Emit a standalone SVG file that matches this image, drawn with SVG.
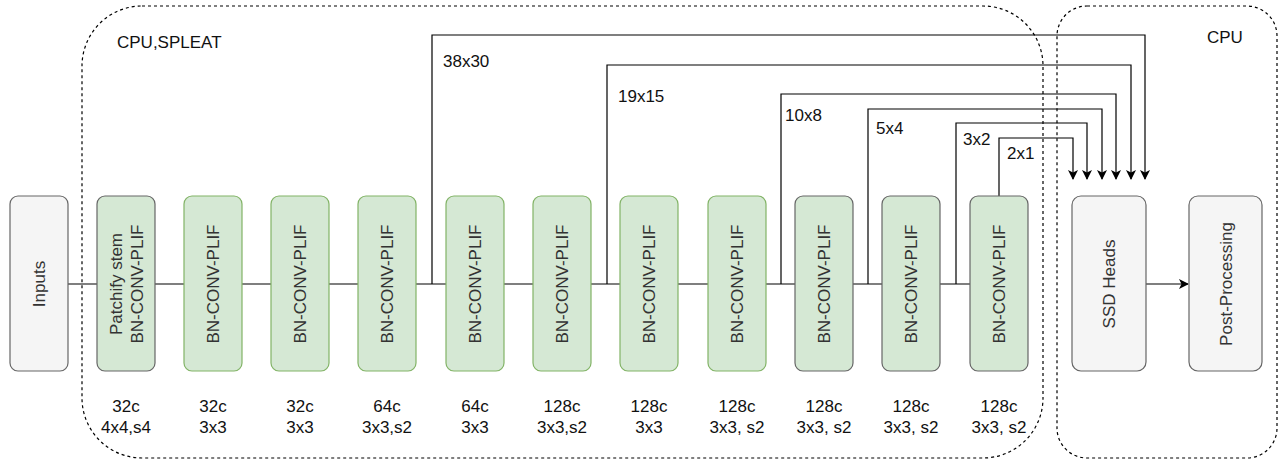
<svg xmlns="http://www.w3.org/2000/svg" width="1283" height="464" viewBox="0 0 1283 464">
<style>
text{font-family:"Liberation Sans",Arial,sans-serif;font-size:17px;fill:#333}
.lbl{fill:#111}
.region{fill:none;stroke:#000;stroke-width:1.2;stroke-dasharray:3 3}
.grey{fill:#f5f5f5;stroke:#666;stroke-width:1.2}
.green{fill:#d5e8d4;stroke:#82b366;stroke-width:1.2}
.greeng{fill:#d5e8d4;stroke:#666;stroke-width:1.2}
.wire{fill:none;stroke:#000;stroke-width:1.2}
</style>
<defs>
<marker id="arr" viewBox="0 0 10 10" refX="9" refY="5" markerWidth="10" markerHeight="10" markerUnits="userSpaceOnUse" orient="auto">
<path d="M0,0 L10,5 L0,10 L2.5,5 Z" fill="#000"/>
</marker>
</defs>
<g id="region-spleat">
<rect class="region" x="82" y="6" width="961" height="452" rx="60" ry="60"/>
<text class="lbl" x="117" y="48">CPU,SPLEAT</text>
</g>
<g id="region-cpu">
<rect class="region" x="1057" y="6" width="220" height="452" rx="30" ry="30"/>
<text class="lbl" x="1207" y="43">CPU</text>
</g>
<g id="connectors">
<path class="wire" d="M68,284 H970"/>
<path class="wire" d="M432,284 V35 H1145 V179" marker-end="url(#arr)"/>
<path class="wire" d="M607,284 V65 H1131 V179" marker-end="url(#arr)"/>
<path class="wire" d="M781,284 V94 H1116 V179" marker-end="url(#arr)"/>
<path class="wire" d="M868,284 V109 H1102 V179" marker-end="url(#arr)"/>
<path class="wire" d="M956,284 V123 H1087 V179" marker-end="url(#arr)"/>
<path class="wire" d="M999,196 V138 H1073 V179" marker-end="url(#arr)"/>
<path class="wire" d="M1146,284 H1188" marker-end="url(#arr)"/>
<text class="lbl" x="443" y="67">38x30</text>
<text class="lbl" x="618" y="102">19x15</text>
<text class="lbl" x="785" y="121">10x8</text>
<text class="lbl" x="876" y="134">5x4</text>
<text class="lbl" x="963" y="145">3x2</text>
<text class="lbl" x="1007" y="159">2x1</text>
</g>
<g id="inputs">
<rect class="grey" x="10" y="196" width="58" height="175" rx="8"/>
<text transform="translate(39,284) rotate(-90)" x="0" y="6" text-anchor="middle">Inputs</text>
</g>
<g id="block1">
<rect class="greeng" x="97" y="196" width="58" height="175" rx="8"/>
<text transform="translate(126,284) rotate(-90)" text-anchor="middle"><tspan x="0" y="-4.5">Patchify stem</tspan><tspan x="0" y="16.5">BN-CONV-PLIF</tspan></text>
<text class="lbl" x="126" y="412" text-anchor="middle">32c</text>
<text class="lbl" x="126" y="433" text-anchor="middle">4x4,s4</text>
</g>
<g id="block2">
<rect class="green" x="184" y="196" width="58" height="175" rx="8"/>
<text transform="translate(213,284) rotate(-90)" x="0" y="6" text-anchor="middle">BN-CONV-PLIF</text>
<text class="lbl" x="213" y="412" text-anchor="middle">32c</text>
<text class="lbl" x="213" y="433" text-anchor="middle">3x3</text>
</g>
<g id="block3">
<rect class="green" x="271" y="196" width="58" height="175" rx="8"/>
<text transform="translate(300,284) rotate(-90)" x="0" y="6" text-anchor="middle">BN-CONV-PLIF</text>
<text class="lbl" x="300" y="412" text-anchor="middle">32c</text>
<text class="lbl" x="300" y="433" text-anchor="middle">3x3</text>
</g>
<g id="block4">
<rect class="green" x="358" y="196" width="58" height="175" rx="8"/>
<text transform="translate(387,284) rotate(-90)" x="0" y="6" text-anchor="middle">BN-CONV-PLIF</text>
<text class="lbl" x="387" y="412" text-anchor="middle">64c</text>
<text class="lbl" x="387" y="433" text-anchor="middle">3x3,s2</text>
</g>
<g id="block5">
<rect class="green" x="446" y="196" width="58" height="175" rx="8"/>
<text transform="translate(475,284) rotate(-90)" x="0" y="6" text-anchor="middle">BN-CONV-PLIF</text>
<text class="lbl" x="475" y="412" text-anchor="middle">64c</text>
<text class="lbl" x="475" y="433" text-anchor="middle">3x3</text>
</g>
<g id="block6">
<rect class="green" x="533" y="196" width="58" height="175" rx="8"/>
<text transform="translate(562,284) rotate(-90)" x="0" y="6" text-anchor="middle">BN-CONV-PLIF</text>
<text class="lbl" x="562" y="412" text-anchor="middle">128c</text>
<text class="lbl" x="562" y="433" text-anchor="middle">3x3,s2</text>
</g>
<g id="block7">
<rect class="green" x="620" y="196" width="58" height="175" rx="8"/>
<text transform="translate(649,284) rotate(-90)" x="0" y="6" text-anchor="middle">BN-CONV-PLIF</text>
<text class="lbl" x="649" y="412" text-anchor="middle">128c</text>
<text class="lbl" x="649" y="433" text-anchor="middle">3x3</text>
</g>
<g id="block8">
<rect class="green" x="708" y="196" width="58" height="175" rx="8"/>
<text transform="translate(737,284) rotate(-90)" x="0" y="6" text-anchor="middle">BN-CONV-PLIF</text>
<text class="lbl" x="737" y="412" text-anchor="middle">128c</text>
<text class="lbl" x="737" y="433" text-anchor="middle">3x3, s2</text>
</g>
<g id="block9">
<rect class="greeng" x="795" y="196" width="58" height="175" rx="8"/>
<text transform="translate(824,284) rotate(-90)" x="0" y="6" text-anchor="middle">BN-CONV-PLIF</text>
<text class="lbl" x="824" y="412" text-anchor="middle">128c</text>
<text class="lbl" x="824" y="433" text-anchor="middle">3x3, s2</text>
</g>
<g id="block10">
<rect class="greeng" x="882" y="196" width="58" height="175" rx="8"/>
<text transform="translate(911,284) rotate(-90)" x="0" y="6" text-anchor="middle">BN-CONV-PLIF</text>
<text class="lbl" x="911" y="412" text-anchor="middle">128c</text>
<text class="lbl" x="911" y="433" text-anchor="middle">3x3, s2</text>
</g>
<g id="block11">
<rect class="greeng" x="970" y="196" width="58" height="175" rx="8"/>
<text transform="translate(999,284) rotate(-90)" x="0" y="6" text-anchor="middle">BN-CONV-PLIF</text>
<text class="lbl" x="999" y="412" text-anchor="middle">128c</text>
<text class="lbl" x="999" y="433" text-anchor="middle">3x3, s2</text>
</g>
<g id="ssd-heads">
<rect class="grey" x="1072" y="196" width="74" height="175" rx="9"/>
<text transform="translate(1109,284) rotate(-90)" x="0" y="6" text-anchor="middle">SSD Heads</text>
</g>
<g id="post-processing">
<rect class="grey" x="1189" y="196" width="73" height="175" rx="9"/>
<text transform="translate(1225.5,284) rotate(-90)" x="0" y="6" text-anchor="middle">Post-Processing</text>
</g>
</svg>
